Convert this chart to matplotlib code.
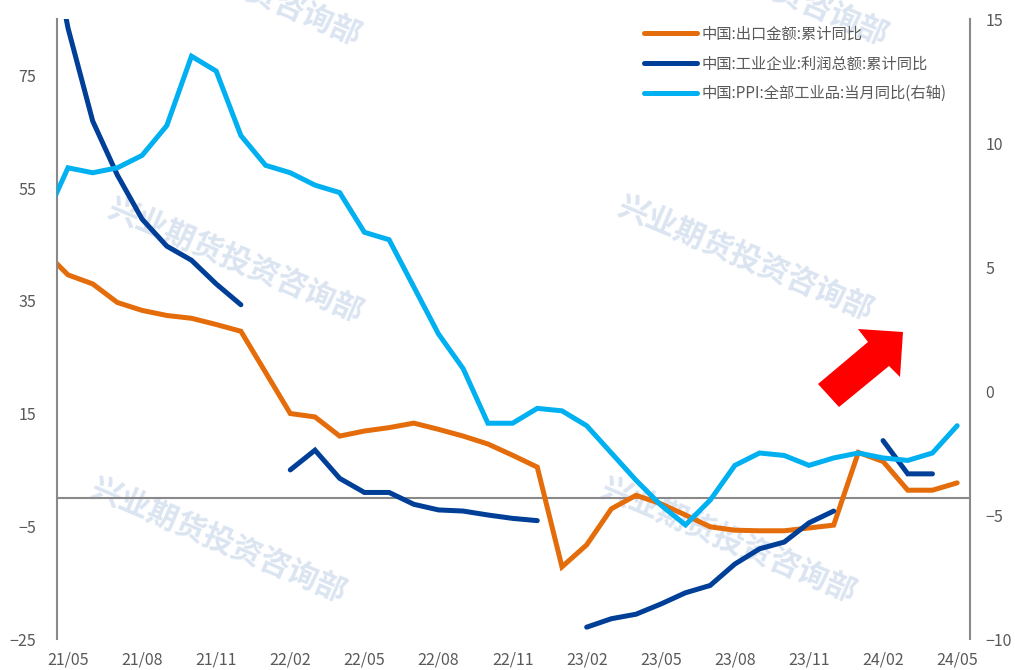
import numpy as np
import matplotlib
matplotlib.use('Agg')
import matplotlib.pyplot as plt
from matplotlib.patches import Polygon

plt.rcParams['font.family'] = ['Noto Sans CJK SC', 'DejaVu Sans']

# Months 21/04 .. 24/05 (first point sits just left of the visible range)
months = ['21/04', '21/05', '21/06', '21/07', '21/08', '21/09', '21/10', '21/11', '21/12',
          '22/01', '22/02', '22/03', '22/04', '22/05', '22/06', '22/07', '22/08', '22/09',
          '22/10', '22/11', '22/12', '23/01', '23/02', '23/03', '23/04', '23/05', '23/06',
          '23/07', '23/08', '23/09', '23/10', '23/11', '23/12', '24/01', '24/02', '24/03',
          '24/04', '24/05']

# 中国:出口金额:累计同比 (left axis)
exports = [44.0, 39.6, 38.0, 34.7, 33.3, 32.4, 31.9, 30.8, 29.6,
           22.3, 15.0, 14.4, 11.0, 11.9, 12.5, 13.3, 12.2, 11.0,
           9.6, 7.6, 5.5, -12.2, -8.3, -1.9, 0.5, -1.0, -3.0,
           -5.1, -5.7, -5.8, -5.8, -5.3, -4.8, 8.1, 6.5, 1.4,
           1.4, 2.7]

# 中国:工业企业:利润总额:累计同比 (left axis)
profits = [106.0, 83.4, 66.9, 57.3, 49.5, 44.7, 42.2, 38.0, 34.3,
           np.nan, 5.0, 8.5, 3.5, 1.0, 1.0, -1.1, -2.1, -2.3,
           -3.0, -3.6, -4.0, np.nan, -22.9, -21.4, -20.6, -18.8, -16.8,
           -15.5, -11.7, -9.0, -7.8, -4.4, -2.3, np.nan, 10.2, 4.3,
           4.3, np.nan]

# 中国:PPI:全部工业品:当月同比 (right axis)
ppi = [6.8, 9.0, 8.8, 9.0, 9.5, 10.7, 13.5, 12.9, 10.3,
       9.1, 8.8, 8.3, 8.0, 6.4, 6.1, 4.2, 2.3, 0.9,
       -1.3, -1.3, -0.7, -0.8, -1.4, -2.5, -3.6, -4.6, -5.4,
       -4.4, -3.0, -2.5, -2.6, -3.0, -2.7, -2.5, -2.7, -2.8,
       -2.5, -1.4]

labels = ['中国:出口金额:累计同比', '中国:工业企业:利润总额:累计同比', '中国:PPI:全部工业品:当月同比(右轴)']
colors = ['#E46C0A', '#003F98', '#00B0F0']
left_ticks = [-25, -5, 15, 35, 55, 75]
right_ticks = [-10, -5, 0, 5, 10, 15]
watermark = '兴业期货投资咨询部'

W, H = 1015, 670
fig = plt.figure(figsize=(W / 100, H / 100), dpi=100)
ax = fig.add_axes([57 / W, 1 - 639 / H, (970 - 57) / W, (639 - 19) / H])
ax.set_facecolor('none')
ax2 = ax.twinx()

x = np.arange(len(months))
l1, = ax.plot(x, exports, color=colors[0], lw=3.6, solid_capstyle='round', solid_joinstyle='miter')
l2, = ax.plot(x, profits, color=colors[1], lw=3.6, solid_capstyle='round', solid_joinstyle='miter')
l3, = ax2.plot(x, ppi, color=colors[2], lw=3.6, solid_capstyle='round', solid_joinstyle='miter')

ax.axhline(0, color='#898989', lw=1.5, zorder=1)

ax.set_xlim(0.555, 37.52)
ax.set_ylim(-25, 85)
ax2.set_ylim(-10, 15)
ax.set_yticks(left_ticks)
ax2.set_yticks(right_ticks)
ax.set_xticks(x[1::3])
ax.set_xticklabels(months[1::3])

for a in (ax, ax2):
    for s in a.spines.values():
        s.set_visible(False)
    a.tick_params(length=0, colors='#595959', labelsize=11.5)
ax.spines['left'].set_visible(True)
ax.spines['left'].set_color('#898989')
ax.spines['left'].set_linewidth(1.5)
ax2.spines['right'].set_visible(True)
ax2.spines['right'].set_color('#898989')
ax2.spines['right'].set_linewidth(1.5)
ax.tick_params(axis='y', pad=15)
ax.tick_params(axis='x', pad=9)
ax2.tick_params(axis='y', pad=11)

leg = ax2.legend([l1, l2, l3], labels, loc='upper left', bbox_to_anchor=(636 / W, 1 - 18 / H),
                 bbox_transform=fig.transFigure, frameon=False, fontsize=11, borderpad=0,
                 handlelength=3.5, handletextpad=0.32, labelspacing=0.84)
for t in leg.get_texts():
    t.set_color('#595959')

# watermarks
for cx, cy in [(233, -17), (760, -17), (235, 260), (745, 258), (218, 540), (728, 540)]:
    fig.text(cx / W, 1 - cy / H, watermark, rotation=-23, ha='center', va='center',
             fontsize=22, fontweight='bold', color='#dbe4f1', zorder=-1)

# red arrow
arrow_px = [(818, 384), (868, 342), (858, 329), (903, 332), (900, 377), (889, 366), (839, 407)]
fig.patches.append(Polygon([(px / W, 1 - py / H) for px, py in arrow_px], closed=True,
                           transform=fig.transFigure, facecolor='#FF0000', edgecolor='none'))

fig.savefig('out.png', dpi=100)
